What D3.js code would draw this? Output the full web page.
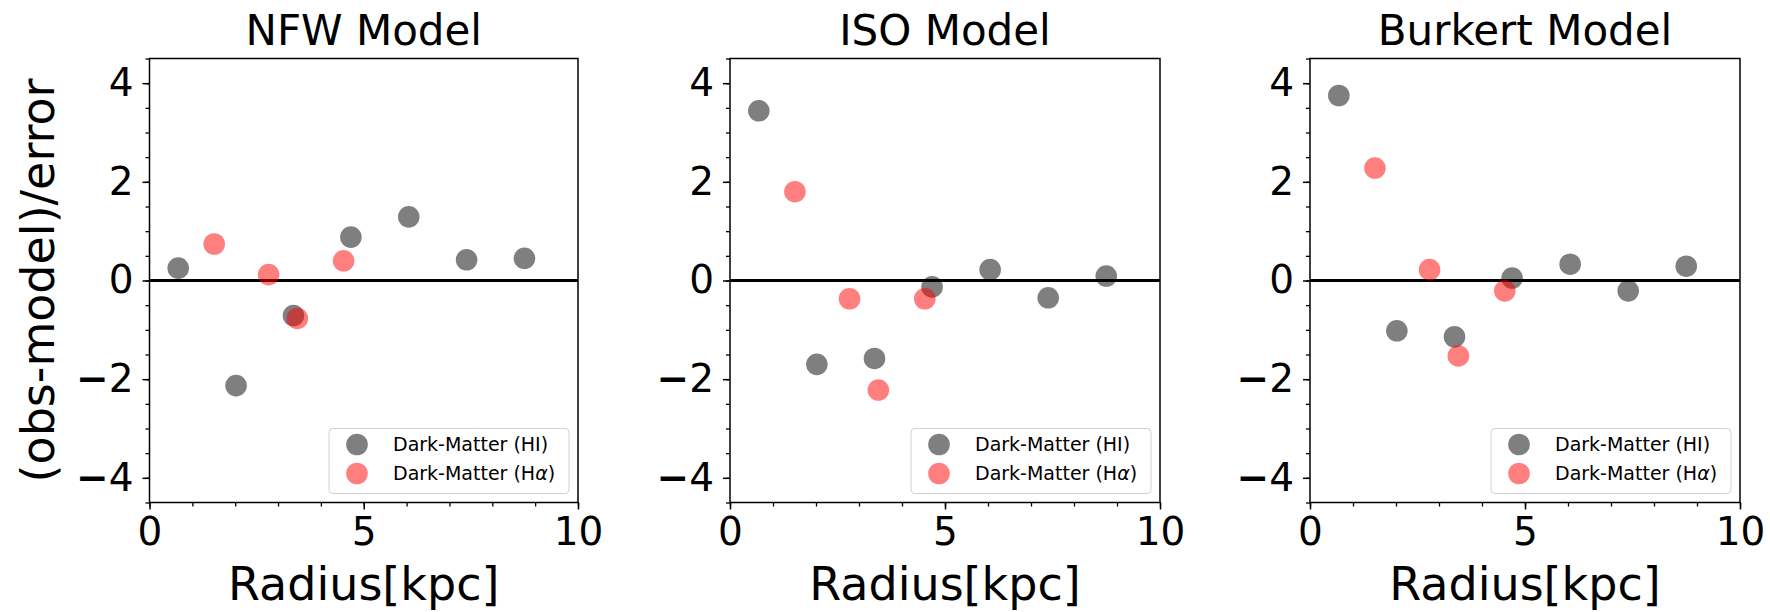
<!DOCTYPE html>
<html>
<head>
<meta charset="utf-8">
<script src="https://cdn.jsdelivr.net/npm/d3@7"></script>
<style>
  html, body { margin: 0; padding: 0; background: #fff; }
  svg { display: block; font-family: "DejaVu Sans", sans-serif; }
</style>
</head>
<body>
<svg id="chart" width="1770" height="612"></svg>
<script>
// ---- data ----
const panelTitles = ["NFW Model", "ISO Model", "Burkert Model"];
const seriesNames = ["Dark-Matter (HI)", "Dark-Matter (H\u03B1)"];
const radiusHI = [0.67, 2.02, 3.36, 4.70, 6.05, 7.40, 8.75];
const radiusHa = [1.51, 2.78, 3.45, 4.53];
const nfwHI = [0.25, -2.13, -0.71, 0.88, 1.29, 0.42, 0.45];
const nfwHa = [0.74, 0.12, -0.77, 0.40];
const isoHI = [3.44, -1.70, -1.58, -0.13, 0.22, -0.35, 0.09];
const isoHa = [1.80, -0.37, -2.22, -0.37];
const burHI = [3.75, -1.02, -1.14, 0.05, 0.33, -0.21, 0.29];
const burHa = [2.28, 0.22, -1.53, -0.21];
const xTicks = [0, 5, 10];
const yTicks = [-4, -2, 0, 2, 4];
const xLabel = "Radius[kpc]";
const yLabel = "(obs-model)/error";

const panelsHI = [nfwHI, isoHI, burHI];
const panelsHa = [nfwHa, isoHa, burHa];

// ---- layout ----
const svg = d3.select("#chart");
const lefts = [149.5, 730, 1310];
const widths = [428.5, 430, 430];
const plotTop = 58.5, plotBottom = 502.5;
const colors = ["rgba(0,0,0,0.5)", "rgba(255,0,0,0.5)"];
const R = 10.8;

panelTitles.forEach((title, i) => {
  const x = d3.scaleLinear().domain([0, 10]).range([lefts[i], lefts[i] + widths[i]]);
  const y = d3.scaleLinear().domain([-4.5, 4.5]).range([plotBottom, plotTop]);
  const g = svg.append("g");

  // minor ticks
  g.append("g").attr("transform", `translate(0,${plotBottom})`)
    .call(d3.axisBottom(x).tickValues(d3.range(0, 11, 1)).tickSize(4).tickFormat(""))
    .call(a => a.select(".domain").remove())
    .call(a => a.selectAll("text").remove())
    .call(a => a.selectAll("line").attr("stroke-width", 1.3));
  g.append("g").attr("transform", `translate(${lefts[i]},0)`)
    .call(d3.axisLeft(y).tickValues(d3.range(-4.5, 4.51, 0.5)).tickSize(4).tickFormat(""))
    .call(a => a.select(".domain").remove())
    .call(a => a.selectAll("text").remove())
    .call(a => a.selectAll("line").attr("stroke-width", 1.3));

  // major ticks
  const xa = g.append("g").attr("transform", `translate(0,${plotBottom})`)
    .call(d3.axisBottom(x).tickValues(xTicks).tickSize(7).tickPadding(8));
  const ya = g.append("g").attr("transform", `translate(${lefts[i]},0)`)
    .call(d3.axisLeft(y).tickValues(yTicks).tickSize(7).tickPadding(9));
  [xa, ya].forEach(a => {
    a.select(".domain").remove();
    a.selectAll("line").attr("stroke-width", 1.5).attr("stroke", "#000");
    a.selectAll("text").attr("font-size", 39).attr("font-family", "DejaVu Sans").attr("fill", "#000")
      .each(function () {
        const t = d3.select(this);
        const s = t.text();
        if (s.startsWith("\u2212")) {
          t.text(null);
          t.append("tspan").attr("font-weight", "bold").text("\u2212");
          t.append("tspan").text(s.slice(1));
        }
      });
  });

  // zero line
  g.append("line")
    .attr("x1", x(0)).attr("x2", x(10))
    .attr("y1", y(0)).attr("y2", y(0))
    .attr("stroke", "#000").attr("stroke-width", 2.8);

  // points
  g.append("g").selectAll("circle").data(radiusHI.map((r, k) => [r, panelsHI[i][k]]))
    .join("circle")
    .attr("cx", d => x(d[0])).attr("cy", d => y(d[1])).attr("r", R)
    .attr("fill", colors[0]);
  g.append("g").selectAll("circle").data(radiusHa.map((r, k) => [r, panelsHa[i][k]]))
    .join("circle")
    .attr("cx", d => x(d[0])).attr("cy", d => y(d[1])).attr("r", R)
    .attr("fill", colors[1]);

  // frame
  g.append("rect")
    .attr("x", lefts[i]).attr("y", plotTop)
    .attr("width", widths[i]).attr("height", plotBottom - plotTop)
    .attr("fill", "none").attr("stroke", "#000").attr("stroke-width", 1.5);

  // legend
  const lw = 240, lh = 65;
  const lx = lefts[i] + widths[i] - 9 - lw, ly = plotBottom - 9 - lh;
  const lg = g.append("g").attr("transform", `translate(${lx},${ly})`);
  lg.append("rect").attr("width", lw).attr("height", lh).attr("rx", 4)
    .attr("fill", "rgba(255,255,255,0.8)").attr("stroke", "#d0d0d0").attr("stroke-width", 1);
  seriesNames.forEach((name, k) => {
    const cy = 16 + k * 29;
    lg.append("circle").attr("cx", 28).attr("cy", cy).attr("r", R).attr("fill", colors[k]);
    const t = lg.append("text").attr("x", 64).attr("y", cy).attr("dy", "0.36em")
      .attr("font-size", 19).attr("fill", "#000");
    const ai = name.indexOf("\u03B1");
    if (ai >= 0) {
      t.append("tspan").text(name.slice(0, ai));
      t.append("tspan").attr("font-style", "italic").text("\u03B1");
      t.append("tspan").text(name.slice(ai + 1));
    } else {
      t.text(name);
    }
  });

  // title
  svg.append("text")
    .attr("x", lefts[i] + widths[i] / 2).attr("y", 45)
    .attr("text-anchor", "middle").attr("font-size", 42).attr("fill", "#000")
    .text(title);

  // x label
  svg.append("text")
    .attr("x", lefts[i] + widths[i] / 2).attr("y", 600)
    .attr("text-anchor", "middle").attr("font-size", 46).attr("fill", "#000")
    .text(xLabel);
});

// y label
svg.append("text")
  .attr("transform", `translate(54,${(plotTop + plotBottom) / 2}) rotate(-90)`)
  .attr("text-anchor", "middle").attr("font-size", 46).attr("fill", "#000")
  .text(yLabel);
</script>
</body>
</html>
